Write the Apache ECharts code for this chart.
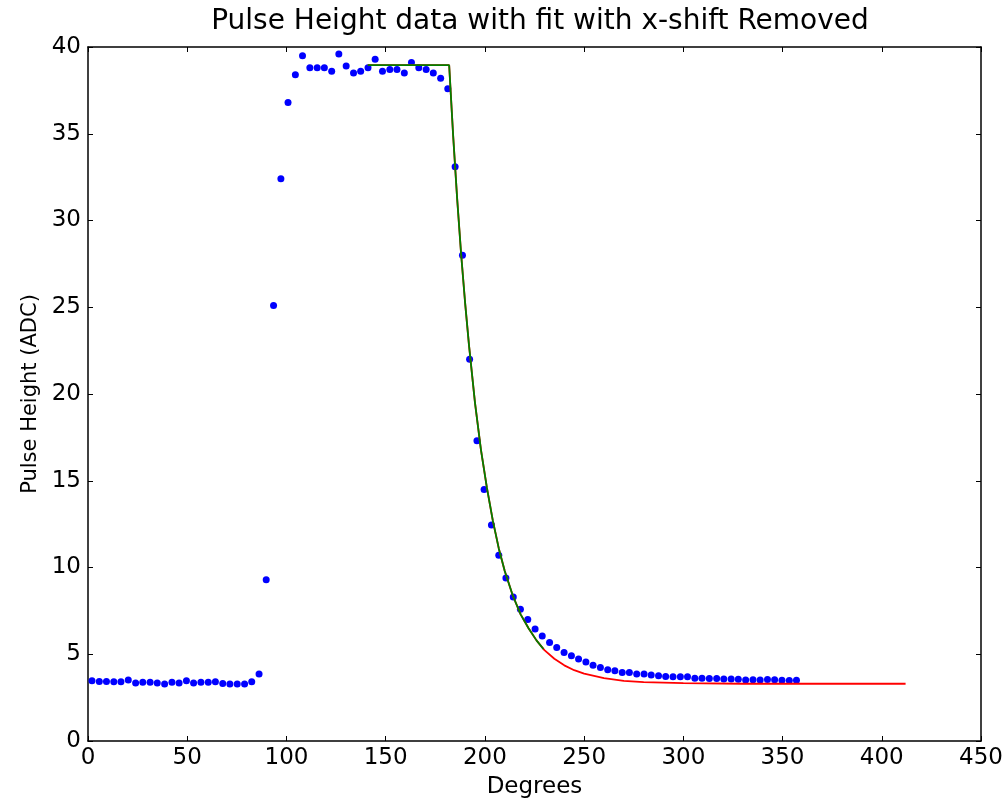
<!DOCTYPE html>
<html>
<head>
<meta charset="utf-8">
<script src="https://cdn.jsdelivr.net/npm/echarts@6/dist/echarts.min.js"></script>
<style>
html,body{margin:0;padding:0;background:#fff;}
#chart{width:1007px;height:804px;}
</style>
</head>
<body>
<div id="chart"></div>
<script>
// Measured data (degrees, ADC)
const dataX = [2.0,5.7,9.3,13.0,16.6,20.3,24.0,27.6,31.3,34.9,38.6,42.3,45.9,49.6,53.2,56.9,60.6,64.2,67.9,71.5,75.2,78.9,82.5,86.2,
  89.8,93.5,97.2,100.8,104.5,108.1,111.8,115.5,119.1,122.8,126.4,130.1,133.8,137.4,141.1,144.7,148.4,152.1,155.7,159.4,163.0,166.7,170.4,174.0,177.7,181.3,185.0,
  188.7,192.3,196.0,199.6,203.3,207.0,210.6,214.3,217.9,221.6,225.3,228.9,232.6,236.2,239.9,243.6,247.2,250.9,254.5,258.2,261.9,265.5,269.2,272.8,276.5,280.2,283.8,287.5,291.1,
  294.8,298.5,302.1,305.8,309.4,313.1,316.8,320.4,324.1,327.7,331.4,335.1,338.7,342.4,346.0,349.7,353.4,357.0];
const dataY = [3.47,3.43,3.43,3.41,3.41,3.51,3.34,3.38,3.38,3.34,3.28,3.38,3.34,3.47,3.34,3.38,3.38,3.41,3.32,3.28,3.28,3.28,3.41,3.86,
  9.3,25.1,32.4,36.8,38.4,39.5,38.8,38.8,38.8,38.6,39.6,38.9,38.5,38.6,38.8,39.3,38.6,38.7,38.7,38.5,39.1,38.8,38.7,38.5,38.2,37.6,33.1,
  28.0,22.0,17.3,14.5,12.45,10.7,9.4,8.3,7.6,7.0,6.45,6.05,5.68,5.39,5.1,4.91,4.72,4.56,4.37,4.24,4.1,4.05,3.95,3.95,3.86,3.86,3.8,3.76,3.72,
  3.70,3.70,3.70,3.62,3.62,3.60,3.60,3.58,3.58,3.56,3.52,3.53,3.52,3.54,3.53,3.50,3.48,3.50];

// Fit curve (red)
const redX = [141,182,184,186,188,190,192,195,198,201,204,207,210,214,218,222,226,230,235,240,245,250,260,270,280,300,330,412];
const redY = [38.95,38.95,34.9,31.3,28.1,25.3,22.8,19.5,16.8,14.6,12.7,11.1,9.8,8.4,7.3,6.5,5.8,5.24,4.74,4.36,4.08,3.88,3.62,3.47,3.39,3.33,3.30,3.30];
// Fit curve with x-shift removed (green)
const greenX = [141,182,184,186,188,190,192,195,198,201,204,207,210,214,218,222,226,229.5];
const greenY = [38.95,38.95,34.9,31.3,28.1,25.3,22.8,19.5,16.8,14.6,12.7,11.1,9.8,8.4,7.3,6.5,5.8,5.3];

const xTicks = [0,50,100,150,200,250,300,350,400,450];
const yTicks = [0,5,10,15,20,25,30,35,40];

const zip = (a,b) => a.map((v,i)=>[v,b[i]]);
const FONT = 'DejaVu Sans';

const chart = echarts.init(document.getElementById('chart'), null, {renderer:'canvas'});
const spine = {show:true, onZero:false, lineStyle:{color:'#000', width:1.5}};
const tick = {show:true, inside:true, length:5, lineStyle:{color:'#000', width:1}};
chart.setOption({
  animation:false,
  backgroundColor:'#fff',
  title:{text:'Pulse Height data with fit with x-shift Removed', left:535, top:3, textAlign:'center',
    textStyle:{fontFamily:FONT, fontSize:28, fontWeight:'normal', color:'#000'}},
  grid:{left:88, right:26, top:47, bottom:62, containLabel:false},
  xAxis:[
    {type:'value', min:xTicks[0], max:xTicks[xTicks.length-1], interval:50, position:'bottom',
     name:'Degrees', nameLocation:'middle', nameGap:35,
     nameTextStyle:{fontFamily:FONT, fontSize:23, color:'#000'},
     axisLine:spine, axisTick:tick, splitLine:{show:false},
     axisLabel:{fontFamily:FONT, fontSize:23, color:'#000', margin:6}},
    {type:'value', min:xTicks[0], max:xTicks[xTicks.length-1], interval:50, position:'top',
     axisLine:spine, axisTick:tick, splitLine:{show:false}, axisLabel:{show:false}}
  ],
  yAxis:[
    {type:'value', min:yTicks[0], max:yTicks[yTicks.length-1], interval:5, position:'left',
     name:'Pulse Height (ADC)', nameLocation:'middle', nameGap:47, nameRotate:90,
     nameTextStyle:{fontFamily:FONT, fontSize:21, color:'#000'},
     axisLine:spine, axisTick:tick, splitLine:{show:false},
     axisLabel:{fontFamily:FONT, fontSize:23, color:'#000', margin:7}},
    {type:'value', min:yTicks[0], max:yTicks[yTicks.length-1], interval:5, position:'right',
     axisLine:spine, axisTick:tick, splitLine:{show:false}, axisLabel:{show:false}}
  ],
  series:[
    {type:'scatter', data:zip(dataX,dataY), symbol:'circle', symbolSize:7,
     itemStyle:{color:'#0000ff', opacity:1}, z:3},
    {type:'line', data:zip(redX,redY), showSymbol:false, symbol:'none',
     lineStyle:{color:'#ff0000', width:1.8}, z:4},
    {type:'line', data:zip(greenX,greenY), showSymbol:false, symbol:'none',
     lineStyle:{color:'#008000', width:1.8}, z:5}
  ]
});
</script>
</body>
</html>
